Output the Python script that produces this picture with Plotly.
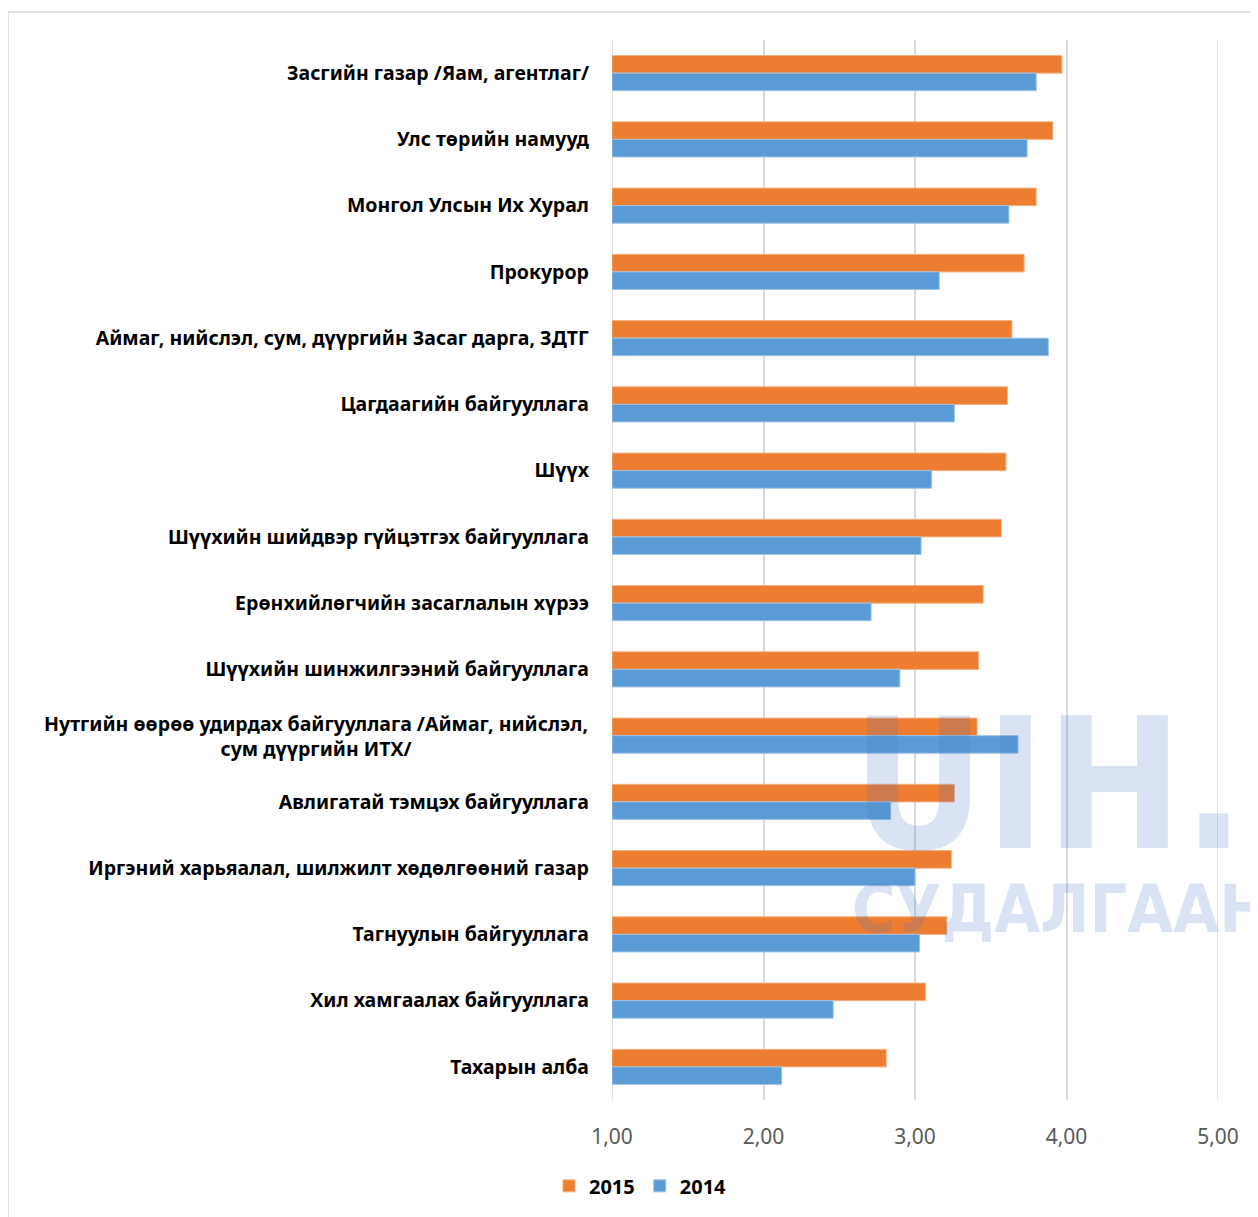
import plotly.graph_objects as go

categories = [
    "Засгийн газар /Яам, агентлаг/",
    "Улс төрийн намууд",
    "Монгол Улсын Их Хурал",
    "Прокурор",
    "Аймаг, нийслэл, сум, дүүргийн Засаг дарга, ЗДТГ",
    "Цагдаагийн байгууллага",
    "Шүүх",
    "Шүүхийн шийдвэр гүйцэтгэх байгууллага",
    "Ерөнхийлөгчийн засаглалын хүрээ",
    "Шүүхийн шинжилгээний байгууллага",
    "Нутгийн өөрөө удирдах байгууллага /Аймаг, нийслэл,<br>сум дүүргийн ИТХ/",
    "Авлигатай тэмцэх байгууллага",
    "Иргэний харьяалал, шилжилт хөдөлгөөний газар",
    "Тагнуулын байгууллага",
    "Хил хамгаалах байгууллага",
    "Тахарын алба",
]
values_2015 = [3.97, 3.91, 3.80, 3.72, 3.64, 3.61, 3.60, 3.57, 3.45, 3.42, 3.41, 3.26, 3.24, 3.21, 3.07, 2.81]
values_2014 = [3.80, 3.74, 3.62, 3.16, 3.88, 3.26, 3.11, 3.04, 2.71, 2.90, 3.68, 2.84, 3.00, 3.03, 2.46, 2.12]
x_ticks = [1, 2, 3, 4, 5]
axis_start = 1  # bars grow from 1,00

ORANGE = "#ED7D31"
BLUE = "#5B9BD5"
GRID = "#D9D9D9"
WATERMARK = "rgba(68,114,196,0.2)"
LABEL_FONT = {"size": 19.5, "color": "#000000", "family": "Noto Sans", "weight": "bold"}

# two-line labels are drawn as centred annotations, the rest as tick labels
tick_text = ["" if "<br>" in c else c for c in categories]
label_notes = [
    {"text": c, "xref": "paper", "yref": "y", "x": 0, "y": c,
     "xanchor": "right", "yanchor": "middle", "xshift": -22, "align": "center",
     "showarrow": False, "font": LABEL_FONT}
    for c in categories if "<br>" in c
]

fig = go.Figure(
    data=[
        go.Bar(
            y=categories,
            x=[v - axis_start for v in values_2015],
            base=axis_start,
            orientation="h",
            name="2015",
            marker={"color": ORANGE, "line": {"color": "#F4B183", "width": 1}},
        ),
        go.Bar(
            y=categories,
            x=[v - axis_start for v in values_2014],
            base=axis_start,
            orientation="h",
            name="2014",
            marker={"color": BLUE, "line": {"color": "#9DC3E6", "width": 1}},
        ),
    ]
)

# page body has an 8px margin, so the figure sits at (8, 8)
fig.update_layout(
    width=1250,
    height=1209,
    paper_bgcolor="white",
    plot_bgcolor="white",
    margin={"l": 604, "r": 40, "t": 32, "b": 117},
    barmode="group",
    bargap=0.47,
    bargroupgap=0,
    separators=",.",
    font={"family": "Noto Sans", "color": "#000000"},
    legend={
        "orientation": "h",
        "x": 0.047,
        "xanchor": "center",
        "y": -0.081,
        "yanchor": "middle",
        "font": {"size": 20, "family": "Noto Sans", "weight": "bold"},
        "itemwidth": 30,
        "traceorder": "normal",
    },
    xaxis={
        "range": [1, 5],
        "tickvals": x_ticks,
        "tickformat": ".2f",
        "showgrid": True,
        "gridcolor": GRID,
        "gridwidth": 1.5,
        "zeroline": False,
        "showline": False,
        "ticks": "",
        "ticklabelstandoff": 22,
        "tickfont": {"size": 21, "color": "#595959", "family": "Noto Sans"},
    },
    yaxis={
        "autorange": "reversed",
        "tickmode": "array",
        "tickvals": categories,
        "ticktext": tick_text,
        "showgrid": False,
        "zeroline": False,
        "showline": False,
        "ticks": "",
        "ticklabelstandoff": 22,
        "tickfont": LABEL_FONT,
    },
    shapes=[
        # outer chart border (top and left edges visible)
        {"type": "line", "xref": "paper", "yref": "paper",
         "x0": -0.9967, "x1": 1.07, "y0": 1.0264, "y1": 1.0264,
         "line": {"color": GRID, "width": 1.5}},
        {"type": "line", "xref": "paper", "yref": "paper",
         "x0": -0.9967, "x1": -0.9967, "y0": 1.0264, "y1": -0.12,
         "line": {"color": GRID, "width": 1.5}},
        # gridlines at the range ends, which plotly leaves out
        {"type": "line", "xref": "x", "yref": "paper", "layer": "below",
         "x0": x_ticks[0], "x1": x_ticks[0], "y0": 0, "y1": 1,
         "line": {"color": GRID, "width": 1.5}},
        {"type": "line", "xref": "x", "yref": "paper", "layer": "below",
         "x0": x_ticks[-1], "x1": x_ticks[-1], "y0": 0, "y1": 1,
         "line": {"color": GRID, "width": 1.5}},
    ],
    annotations=label_notes + [
        {"text": "UIH.MN", "xref": "paper", "yref": "paper",
         "x": 0.393, "y": 0.297, "xanchor": "left", "yanchor": "middle",
         "showarrow": False,
         "font": {"size": 182, "family": "DejaVu Sans Condensed",
                  "weight": "bold", "color": WATERMARK}},
        {"text": "СУДАЛГААНЫ САН", "xref": "paper", "yref": "paper",
         "x": 0.393, "y": 0.180, "xanchor": "left", "yanchor": "middle",
         "showarrow": False,
         "font": {"size": 66, "family": "DejaVu Sans Condensed",
                  "weight": "bold", "color": WATERMARK}},
    ],
)

fig.write_html("out.html")
